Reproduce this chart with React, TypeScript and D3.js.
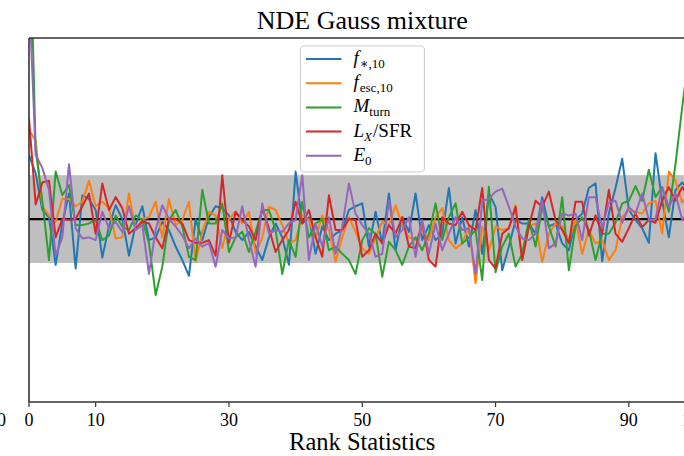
import React from "react";
import * as d3 from "d3";

// Rank-statistic histogram bins (0..99) and counts per parameter
const bins: number[] = d3.range(100);

const fStar10: number[] = [
  135, 125, 105, 101, 75, 97.6, 114, 73, 113, 111, 105, 79, 96, 107.6, 100, 80, 97, 107, 88.5, 90,
  98.5, 94, 85, 77.6, 69, 100, 88.5, 101, 107, 106, 102, 93, 88.5, 93, 85, 77.6, 90, 97.6, 90, 75,
  126, 97.6, 101, 81, 96, 88.5, 92, 94, 105, 107, 108.6, 85, 104, 86.7, 114, 83, 101, 93, 114, 88.5,
  96.7, 88.5, 92, 117, 86.7, 101, 85, 105, 81, 114, 106.7, 72, 85, 99.5, 97.6, 97.6, 92, 112, 96, 97.6,
  86.7, 83, 99.5, 103, 117, 119.5, 77, 103, 117, 133, 105, 99.5, 95, 87, 136, 110, 90, 116, 120, 115,
];

const fEsc10: number[] = [
  148.6, 143, 107, 102, 98.5, 111, 111, 107, 109.5, 121, 107, 109.5, 106, 89.4, 90, 114, 94, 100, 101, 109.5,
  90, 111, 96.7, 99.5, 109.5, 76.7, 93, 104, 102, 84, 100, 104, 97.6, 104, 81, 90, 106.7, 105, 96.7, 86.7,
  88.5, 102, 99.5, 89.4, 102, 94, 76.7, 90, 101, 93, 84, 81, 89.4, 98.5, 96.7, 107.6, 96.7, 90, 88.5, 94,
  88.5, 101, 106, 88.5, 84, 86.7, 96, 65, 96, 83, 96, 94, 95, 107.6, 77.6, 96, 97.6, 76.7, 92, 97.6,
  96, 88.5, 99.5, 81, 94, 86.7, 88.5, 77.6, 83, 101, 105, 104, 103, 108.7, 110, 92, 126, 121, 109, 115,
];

const mTurn: number[] = [
  280, 138, 110, 77.6, 126, 113, 118.6, 96.7, 96.7, 97.6, 99.5, 88.5, 91, 102, 96, 94, 102, 99.5, 87, 58.5,
  74, 99.5, 105, 96, 79.4, 77.6, 116, 97.6, 97.6, 108.6, 82, 90, 93, 82, 93, 105, 105, 94, 70, 88.5,
  79.4, 109.5, 90, 97.6, 100, 83, 85, 81, 77.6, 70, 88.5, 95, 92, 68.5, 87.6, 83, 75, 85, 90, 83,
  92, 108.6, 88.5, 101, 108.6, 86.7, 90, 94, 66.7, 117.7, 71, 85, 92, 74, 81, 99.5, 85, 106.7, 96, 85,
  112, 72, 96, 101, 94, 77.6, 92, 92, 98, 108.6, 110, 118, 110, 127, 112, 117.5, 104, 130, 161, 190,
];

const lxSfr: number[] = [
  155, 108, 120, 121, 90, 100, 99.5, 100, 107, 114, 92, 119.5, 105, 112, 106, 92, 95, 98.5, 97.6, 90,
  84, 100, 100, 97.6, 88.5, 87, 87, 88.5, 80, 124, 87, 104, 99.5, 96, 88.5, 106, 95, 82, 88.5, 94,
  109.5, 97.6, 105, 90, 79.4, 113, 94, 94, 100, 99.5, 79.4, 83, 92, 86.7, 96.7, 92, 101, 85, 84, 98.5,
  77.6, 74, 101, 97.6, 96.7, 104, 96.7, 94, 117, 77.6, 73, 92, 95, 106.7, 77.6, 96, 110, 106.7, 115, 99.5,
  94, 86.7, 109.5, 109.5, 91, 102, 92, 116, 92, 87.6, 95, 103, 95.6, 99.5, 98, 110, 117.5, 110, 117.5, 112,
];

const e0: number[] = [
  225, 135, 128, 116, 80, 90, 130, 95, 89.4, 90, 88.5, 104, 95, 98.5, 93, 107, 94, 96.7, 70, 94,
  107.6, 100, 96, 91, 84, 89.4, 85, 87, 74, 94, 89.4, 90, 107, 88.5, 74, 108.6, 92, 94, 93, 97.6,
  99.5, 124, 77.6, 97.6, 85, 101, 81, 96, 119.5, 103, 96.7, 92, 79.4, 81, 110, 90, 94, 101, 79.4, 99.5,
  81, 97.6, 83, 92, 101, 94, 95, 70, 110, 111, 115, 116.7, 106.7, 96, 89.4, 88.5, 92, 110, 84, 86.7,
  103, 102, 103, 88.5, 112, 112, 95, 109, 110, 98, 106.6, 103, 114, 99.5, 100, 117.5, 106.6, 114, 99.5, 105,
];

// Expected count per bin and the shaded +/- band around it
const expected = 100;
const bandHalf = 24;

const xTicks: number[] = [0, 10, 30, 50, 70, 90, 100];

const seriesColors = ["#1f77b4", "#ff7f0e", "#2ca02c", "#d62728", "#9467bd"];

const W = 684;
const H = 456;
const left = 29;
const right = 695.5;
const top = 38;
const bottom = 402;

const serif = "'Liberation Serif', 'DejaVu Serif', serif";

function LegendLabel({ k, x, y }: { k: number; x: number; y: number }) {
  const base = { fontFamily: serif, fontSize: 19, fill: "#000" } as const;
  const sub = { fontSize: 13 } as const;
  if (k === 0)
    return (
      <text x={x} y={y} {...base}>
        <tspan fontStyle="italic">f</tspan>
        <tspan dx={1} dy={4} {...sub}>∗,10</tspan>
      </text>
    );
  if (k === 1)
    return (
      <text x={x} y={y} {...base}>
        <tspan fontStyle="italic">f</tspan>
        <tspan dx={1} dy={4} {...sub}>esc,10</tspan>
      </text>
    );
  if (k === 2)
    return (
      <text x={x} y={y} {...base}>
        <tspan fontStyle="italic">M</tspan>
        <tspan dy={4} {...sub}>turn</tspan>
      </text>
    );
  if (k === 3)
    return (
      <text x={x} y={y} {...base}>
        <tspan fontStyle="italic">L</tspan>
        <tspan dy={4} {...sub} fontStyle="italic">X</tspan>
        <tspan dx={1} dy={-4}>/SFR</tspan>
      </text>
    );
  return (
    <text x={x} y={y} {...base}>
      <tspan fontStyle="italic">E</tspan>
      <tspan dy={4} {...sub}>0</tspan>
    </text>
  );
}

export default function App() {
  const x = d3.scaleLinear().domain([0, 100]).range([left, right]);
  const y = d3.scaleLinear().domain([0, 199]).range([bottom, top]);
  const series = [fStar10, fEsc10, mTurn, lxSfr, e0];

  const line = (vals: number[]) =>
    d3
      .line<number>()
      .x((_, i) => x(bins[i]))
      .y((d) => y(d))(vals) || "";

  const legendX = 300.5;
  const legendY = 46;
  const legendW = 124;
  const legendH = 126;
  const rowGap = 24.2;

  return (
    <svg
      width={W}
      height={H}
      style={{ position: "absolute", left: 0, top: 0, background: "#fff" }}
    >
      <defs>
        <clipPath id="plot-area">
          <rect x={left} y={top} width={right - left} height={bottom - top} />
        </clipPath>
      </defs>

      <text
        x={(left + right) / 2}
        y={29}
        textAnchor="middle"
        fontFamily={serif}
        fontSize={26}
      >
        NDE Gauss mixture
      </text>

      <g clipPath="url(#plot-area)">
        <rect
          x={left}
          y={y(expected + bandHalf)}
          width={right - left}
          height={y(expected - bandHalf) - y(expected + bandHalf)}
          fill="#bfbfbf"
        />
        <line
          x1={left}
          x2={right}
          y1={y(expected)}
          y2={y(expected)}
          stroke="#000"
          strokeWidth={2.2}
        />
        {series.map((vals, k) => (
          <path
            key={k}
            d={line(vals)}
            fill="none"
            stroke={seriesColors[k]}
            strokeWidth={2}
            strokeLinejoin="round"
          />
        ))}
      </g>

      {/* axes frame */}
      <line x1={left} x2={left} y1={top} y2={bottom} stroke="#333" strokeWidth={1.6} />
      <line x1={left} x2={right} y1={top} y2={top} stroke="#333" strokeWidth={1.6} />
      <line x1={left} x2={right} y1={bottom} y2={bottom} stroke="#333" strokeWidth={1.6} />
      <line x1={right} x2={right} y1={top} y2={bottom} stroke="#333" strokeWidth={1.6} />

      {xTicks.map((t) => (
        <g key={t} transform={`translate(${x(t)},${bottom})`}>
          <line y1={0} y2={5} stroke="#333" strokeWidth={1.2} />
          <text
            y={23.5}
            textAnchor="middle"
            fontFamily={serif}
            fontSize={18}
          >
            {t}
          </text>
        </g>
      ))}
      <text x={6} y={bottom + 23.5} textAnchor="end" fontFamily={serif} fontSize={18}>
        100
      </text>

      <text
        x={(left + right) / 2}
        y={450}
        textAnchor="middle"
        fontFamily={serif}
        fontSize={24.5}
      >
        Rank Statistics
      </text>

      {/* legend */}
      <rect
        x={legendX}
        y={legendY}
        width={legendW}
        height={legendH}
        rx={4}
        fill="#fff"
        fillOpacity={0.85}
        stroke="#d0d0d0"
        strokeWidth={1.2}
      />
      {series.map((_, k) => {
        const ly = legendY + 13 + k * rowGap;
        return (
          <g key={k}>
            <line
              x1={legendX + 5.5}
              x2={legendX + 41}
              y1={ly}
              y2={ly}
              stroke={seriesColors[k]}
              strokeWidth={2}
            />
            <LegendLabel k={k} x={legendX + 53} y={ly + 5} />
          </g>
        );
      })}
    </svg>
  );
}
